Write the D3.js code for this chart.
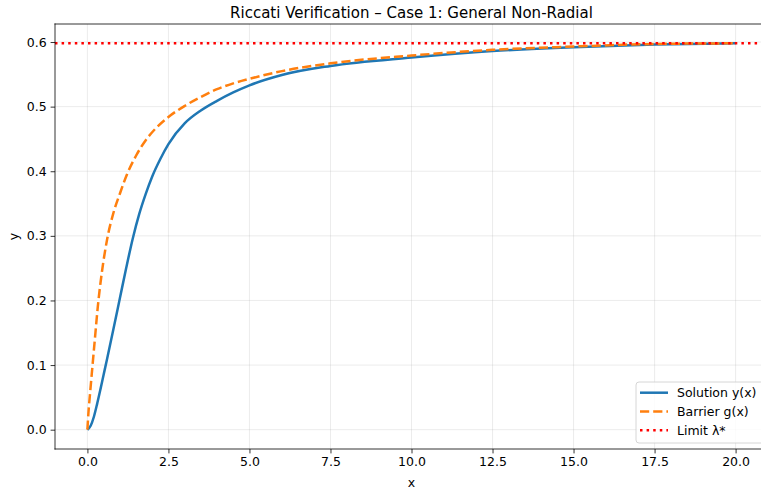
<!DOCTYPE html>
<html>
<head>
<meta charset="utf-8">
<script src="https://cdn.jsdelivr.net/npm/d3@7"></script>
<style>
  body { margin: 0; background: #fff; overflow: hidden; }
  svg { display: block; font-family: "DejaVu Sans", sans-serif; }
</style>
</head>
<body>
<div id="chart-area"></div>
<script>
// values
const solutionX = [0, 0.1, 0.2, 0.3, 0.4, 0.5, 0.6, 0.8, 1.0, 1.2, 1.4, 1.6, 1.8, 2.0, 2.25, 2.5, 3.0, 3.5, 4.0, 4.5, 5, 6, 7.5, 10, 12.5, 15, 17.5, 20];
const solutionY = [0, 0.006, 0.02, 0.04, 0.062, 0.085, 0.108, 0.155, 0.203, 0.251, 0.296, 0.334, 0.365, 0.392, 0.419, 0.442, 0.474, 0.494, 0.509, 0.522, 0.533, 0.549, 0.563, 0.576, 0.586, 0.592, 0.596, 0.598];

const barrierX = [0, 0.03, 0.08, 0.15, 0.23, 0.32, 0.45, 0.61, 0.8, 1.0, 1.22, 1.5, 1.8, 2.1, 2.5, 3.0, 3.5, 4.0, 4.5, 5, 6, 7.5, 10, 12.5, 15, 17.5, 20];
const barrierY = [0, 0.025, 0.055, 0.095, 0.14, 0.19, 0.245, 0.295, 0.335, 0.365, 0.395, 0.424, 0.448, 0.466, 0.484, 0.501, 0.515, 0.527, 0.536, 0.543, 0.555, 0.567, 0.579, 0.588, 0.593, 0.597, 0.598];

const limitValue = 0.598;

const xTicks = [0, 2.5, 5, 7.5, 10, 12.5, 15, 17.5, 20];
const yTicks = [0, 0.1, 0.2, 0.3, 0.4, 0.5, 0.6];

const seriesNames = ["Solution y(x)", "Barrier g(x)", "Limit λ*"];

const full_width = 761, full_height = 493;
const margin = { left: 55, right: -7, top: 24, bottom: 44 };
const width = full_width - margin.left - margin.right, height = full_height - margin.top - margin.bottom;

const svg = d3.select("#chart-area").append("svg").attr("width", full_width).attr("height", full_height);

const g = svg.append("g").attr("transform", "translate(" + margin.left + ", " + margin.top + ")");

const x = d3.scaleLinear().domain([-1, 21]).range([0, width]);
const y = d3.scaleLinear().domain([-0.0299, limitValue + 0.0299]).range([height, 0]);

// grid
g.append("g").selectAll("line").data(xTicks).enter().append("line")
    .attr("x1", d => x(d)).attr("x2", d => x(d))
    .attr("y1", 0).attr("y2", height)
    .attr("stroke", "#b0b0b0").attr("stroke-opacity", 0.3).attr("stroke-width", 0.8);
g.append("g").selectAll("line").data(yTicks).enter().append("line")
    .attr("x1", 0).attr("x2", width)
    .attr("y1", d => y(d)).attr("y2", d => y(d))
    .attr("stroke", "#b0b0b0").attr("stroke-opacity", 0.3).attr("stroke-width", 0.8);

// axes
const xAxisCall = d3.axisBottom(x).tickValues(xTicks).tickSize(4.4).tickPadding(4).tickFormat(d3.format(".1f"));
const yAxisCall = d3.axisLeft(y).tickValues(yTicks).tickSize(4.4).tickPadding(4).tickFormat(d3.format(".1f"));

const xAx = g.append("g").attr("transform", "translate(0, " + height + ")").call(xAxisCall);
const yAx = g.append("g").call(yAxisCall);
[xAx, yAx].forEach(a => {
    a.select(".domain").remove();
    a.selectAll("line").attr("stroke", "#000").attr("stroke-width", 0.8);
    a.selectAll("text").attr("font-family", "DejaVu Sans").attr("font-size", "12.5px").attr("fill", "#000");
});

// curves
const line = d3.line().x(d => x(d[0])).y(d => y(d[1])).curve(d3.curveMonotoneX);

g.append("path")
    .datum(solutionX.map((v, i) => [v, solutionY[i]]))
    .attr("d", line)
    .attr("fill", "none").attr("stroke", "#1f77b4").attr("stroke-width", 2.5);

g.append("path")
    .datum(barrierX.map((v, i) => [v, barrierY[i]]))
    .attr("d", line)
    .attr("fill", "none").attr("stroke", "#ff7f0e").attr("stroke-width", 2.5)
    .attr("stroke-dasharray", "9.2,4");

g.append("line")
    .attr("x1", 0).attr("x2", width)
    .attr("y1", y(limitValue)).attr("y2", y(limitValue))
    .attr("stroke", "#ff0000").attr("stroke-width", 2.5)
    .attr("stroke-dasharray", "2.5,4.1");

// spines: the right one lies past the window edge
const spines = [[0, 0, 0, height], [0, 0, width, 0], [0, height, width, height]];
g.append("g").selectAll("line").data(spines).enter().append("line")
    .attr("x1", d => d[0]).attr("y1", d => d[1]).attr("x2", d => d[2]).attr("y2", d => d[3])
    .attr("stroke", "#000").attr("stroke-width", 0.8).attr("stroke-linecap", "square");

// title and labels
svg.append("text")
    .attr("x", margin.left + width / 2).attr("y", 18)
    .attr("text-anchor", "middle").attr("font-size", "15px")
    .text("Riccati Verification – Case 1: General Non-Radial");

svg.append("text")
    .attr("x", margin.left + width / 2).attr("y", 487)
    .attr("text-anchor", "middle").attr("font-size", "12.5px")
    .text("x");

svg.append("text")
    .attr("transform", "translate(18, " + (margin.top + height / 2) + ") rotate(-90)")
    .attr("text-anchor", "middle").attr("font-size", "12.5px")
    .text("y");

// legend (its right edge runs past the window, as in the reference)
const legW = 128, legH = 61;
const leg = g.append("g").attr("transform", "translate(" + (width - 4 - legW) + ", " + (height - 6 - legH) + ")");
leg.append("rect")
    .attr("width", legW).attr("height", legH).attr("rx", 3)
    .attr("fill", "#fff").attr("fill-opacity", 0.8)
    .attr("stroke", "#cccccc").attr("stroke-width", 0.8);

const legStyles = [
    { color: "#1f77b4", dash: null },
    { color: "#ff7f0e", dash: "9.2,4" },
    { color: "#ff0000", dash: "2.5,4.1" }
];
seriesNames.forEach((name, i) => {
    const cy = 10.7 + i * 18.8;
    leg.append("line")
        .attr("x1", 4).attr("x2", 32).attr("y1", cy).attr("y2", cy)
        .attr("stroke", legStyles[i].color).attr("stroke-width", 2.5)
        .attr("stroke-dasharray", legStyles[i].dash);
    leg.append("text")
        .attr("x", 41).attr("y", cy + 4.5)
        .attr("font-size", "12.5px")
        .text(name);
});
</script>
</body>
</html>
